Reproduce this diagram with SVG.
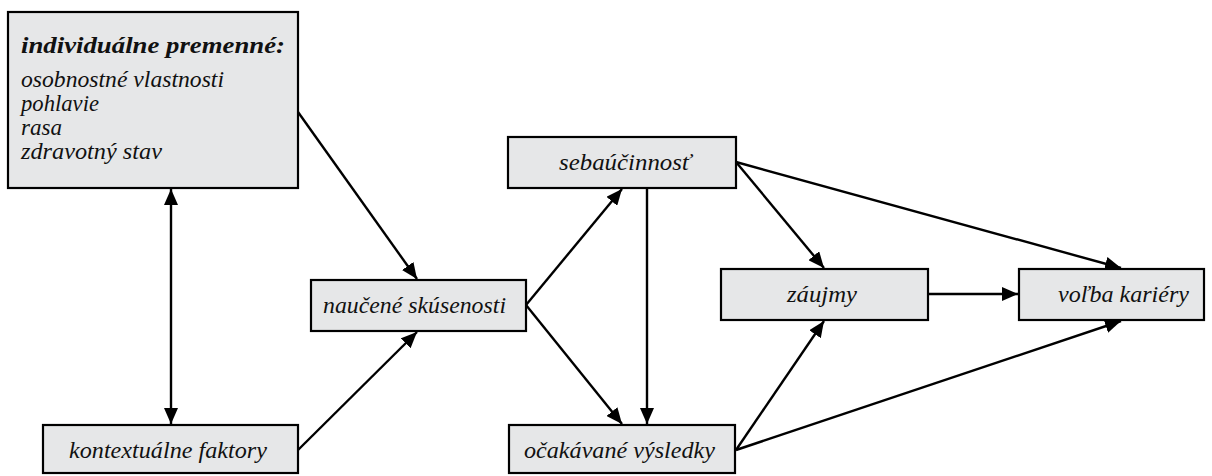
<svg xmlns="http://www.w3.org/2000/svg" width="1212" height="476" viewBox="0 0 1212 476">
<style>
.box{fill:#e6e7e8;stroke:#000;stroke-width:2.2}
.t{font-family:"Liberation Serif","Times New Roman",serif;font-style:italic;font-size:23px;fill:#111}
.tc{text-anchor:middle}
.b{font-weight:bold}
.c{stroke:#000;stroke-width:2.4;fill:none}
</style>
<defs>
<marker id="ah" viewBox="0 0 16 14" refX="16" refY="7" markerWidth="16" markerHeight="14" markerUnits="userSpaceOnUse" orient="auto-start-reverse">
<path d="M0,0 L16,7 L0,14 z" fill="#000"/>
</marker>
</defs>
<rect width="1212" height="476" fill="#fff"/>
<g id="connectors">
<line class="c" x1="298" y1="112" x2="417" y2="279" marker-end="url(#ah)"/>
<line class="c" x1="171" y1="189" x2="171" y2="424" marker-start="url(#ah)" marker-end="url(#ah)"/>
<line class="c" x1="298" y1="450" x2="417" y2="332" marker-end="url(#ah)"/>
<line class="c" x1="526" y1="305" x2="622" y2="189" marker-end="url(#ah)"/>
<line class="c" x1="526" y1="305" x2="622" y2="424" marker-end="url(#ah)"/>
<line class="c" x1="647" y1="188" x2="647" y2="424" marker-end="url(#ah)"/>
<line class="c" x1="736" y1="162" x2="1121" y2="268" marker-end="url(#ah)"/>
<line class="c" x1="736" y1="162" x2="824" y2="268" marker-end="url(#ah)"/>
<line class="c" x1="736" y1="450" x2="824" y2="321" marker-end="url(#ah)"/>
<line class="c" x1="736" y1="450" x2="1121" y2="321" marker-end="url(#ah)"/>
<line class="c" x1="928" y1="294" x2="1018" y2="294" marker-end="url(#ah)"/>
</g>
<g id="individualne">
<rect class="box" x="8" y="12" width="290" height="176"/>
<text class="t b" x="21" y="53" textLength="264" lengthAdjust="spacingAndGlyphs">individuálne premenné:</text>
<text class="t" x="21" y="87" textLength="203" lengthAdjust="spacingAndGlyphs">osobnostné vlastnosti</text>
<text class="t" x="21" y="111" textLength="78" lengthAdjust="spacingAndGlyphs">pohlavie</text>
<text class="t" x="21" y="135" textLength="41" lengthAdjust="spacingAndGlyphs">rasa</text>
<text class="t" x="21" y="159" textLength="141" lengthAdjust="spacingAndGlyphs">zdravotný stav</text>
</g>
<g id="kontextualne">
<rect class="box" x="43" y="425" width="255" height="48"/>
<text class="t" x="69" y="458" textLength="198" lengthAdjust="spacingAndGlyphs">kontextuálne faktory</text>
</g>
<g id="naucene">
<rect class="box" x="311" y="280" width="215" height="51"/>
<text class="t" x="323" y="313" textLength="183" lengthAdjust="spacingAndGlyphs">naučené skúsenosti</text>
</g>
<g id="sebaucinnost">
<rect class="box" x="508" y="137" width="228" height="51"/>
<text class="t" x="559" y="170" textLength="132" lengthAdjust="spacingAndGlyphs">sebaúčinnosť</text>
</g>
<g id="ocakavane">
<rect class="box" x="509" y="425" width="226" height="48"/>
<text class="t" x="524" y="458" textLength="191" lengthAdjust="spacingAndGlyphs">očakávané výsledky</text>
</g>
<g id="zaujmy">
<rect class="box" x="721" y="269" width="207" height="51"/>
<text class="t" x="787" y="302" textLength="70" lengthAdjust="spacingAndGlyphs">záujmy</text>
</g>
<g id="volba">
<rect class="box" x="1019" y="269" width="185" height="51"/>
<text class="t" x="1058" y="302" textLength="131" lengthAdjust="spacingAndGlyphs">voľba kariéry</text>
</g>
</svg>
